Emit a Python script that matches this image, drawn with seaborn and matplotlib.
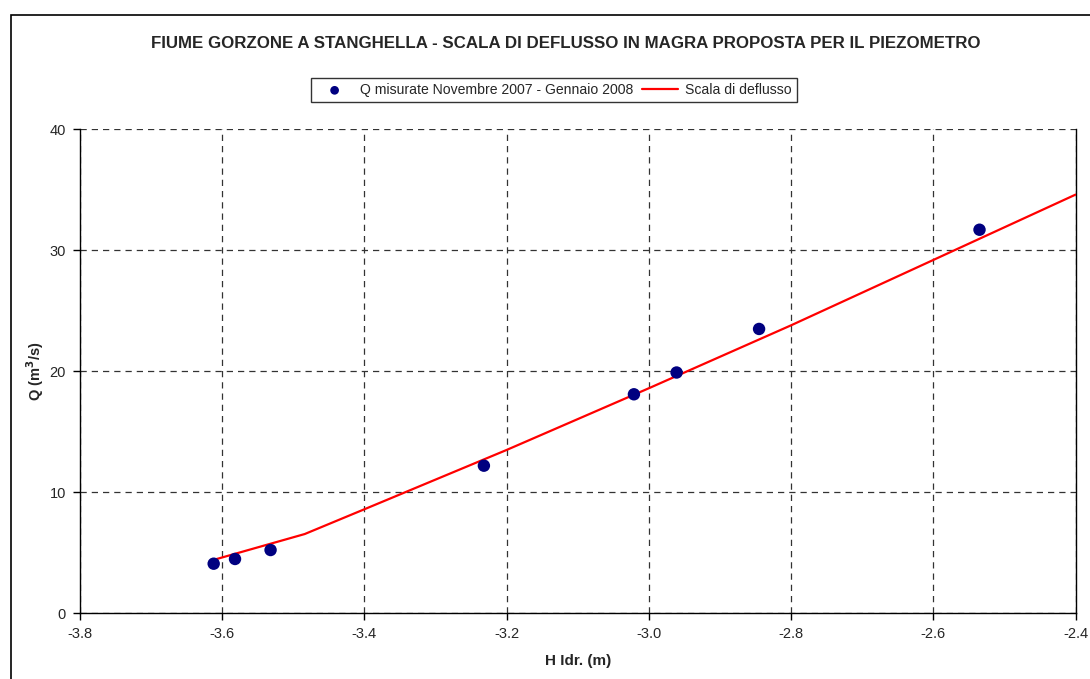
import seaborn as sns
import matplotlib.pyplot as plt
from matplotlib.patches import Rectangle

# misure (livello idrometrico / portata)
h_misure = [-3.612, -3.582, -3.532, -3.232, -3.021, -2.961, -2.845, -2.535]
q_misure = [4.10, 4.49, 5.23, 12.2, 18.1, 19.9, 23.5, 31.7]

# scala di deflusso proposta
h_scala = [-3.61, -3.484, -3.4, -3.2, -3.0, -2.8, -2.6, -2.4]
q_scala = [4.45, 6.55, 8.6, 13.5, 18.6, 23.8, 29.2, 34.6]

x_ticks = [-3.8, -3.6, -3.4, -3.2, -3.0, -2.8, -2.6, -2.4]
y_ticks = [0, 10, 20, 30, 40]

sns.set_theme(style='white')
plt.rcParams['font.family'] = ['Liberation Sans', 'DejaVu Sans']

fig = plt.figure(figsize=(10.9, 6.79), dpi=100)
ax = fig.add_axes([80 / 1090, 1 - 613.3 / 679, (1075.5 - 80) / 1090, (613.3 - 129.3) / 679])

# cornice esterna del grafico
fig.patches.append(Rectangle((11 / 1090, -0.05), 1.2, 1 - 15 / 679 + 0.05,
                             transform=fig.transFigure, fill=False,
                             edgecolor='black', linewidth=1.2))

sns.scatterplot(x=h_misure, y=q_misure, ax=ax, color='#000080', s=80,
                edgecolor='none', zorder=4,
                label='Q misurate Novembre 2007 - Gennaio 2008')
sns.lineplot(x=h_scala, y=q_scala, ax=ax, color='#ff0000', linewidth=1.6,
             zorder=3, label='Scala di deflusso', sort=False)

ax.set_xlim(-3.8, -2.4)
ax.set_ylim(0, 40)
ax.set_xticks(x_ticks)
ax.set_xticklabels(['%.1f' % v for v in x_ticks])
ax.set_yticks(y_ticks)
ax.tick_params(axis='both', direction='out', length=5, width=1, color='black',
               labelsize=10.5, pad=5, bottom=True, left=True)

ax.grid(True, color='#333333', linestyle=(0, (5, 4)), linewidth=0.9)
ax.set_axisbelow(True)
for side in ['left', 'bottom', 'right']:
    ax.spines[side].set_color('black')
    ax.spines[side].set_linewidth(1.0)
ax.spines['top'].set_visible(False)

ax.set_xlabel('H Idr. (m)', fontsize=11, fontweight='bold', labelpad=9)
ax.set_ylabel('Q (m$^\\mathbf{3}$/s)', fontsize=10.5, fontweight='bold', labelpad=3)

fig.text(566 / 1090, 1 - 43 / 679,
         'FIUME GORZONE A STANGHELLA - SCALA DI DEFLUSSO IN MAGRA PROPOSTA PER IL PIEZOMETRO',
         ha='center', va='center', fontsize=12.2, fontweight='bold')

leg = ax.legend(loc='center', bbox_to_anchor=(554 / 1090, 1 - 90 / 679),
                bbox_transform=fig.transFigure, ncol=2, fontsize=10.1,
                frameon=True, fancybox=False, edgecolor='black',
                handlelength=2.6, handletextpad=0.5, columnspacing=0.6,
                borderpad=0.35, markerscale=0.7)
leg.get_frame().set_linewidth(1.0)

fig.savefig('out.png', dpi=100)
